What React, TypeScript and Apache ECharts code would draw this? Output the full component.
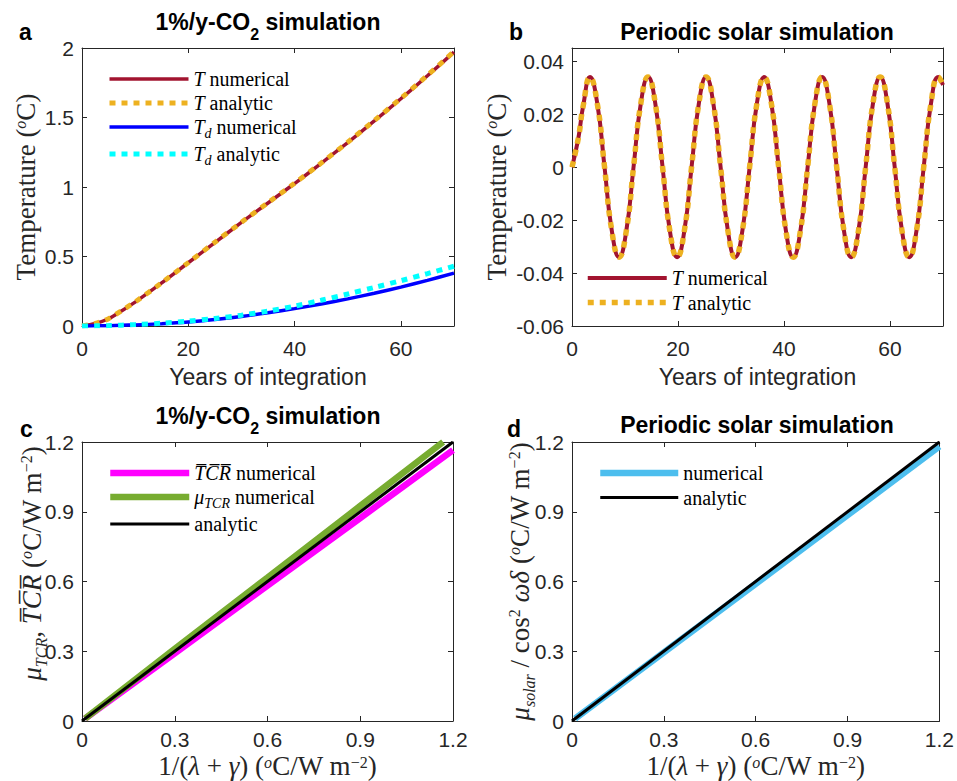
import React, { useEffect, useRef } from 'react';
import * as echarts from 'echarts';

// ---------- Panel a : 1%/y-CO2 simulation ----------
const co2Years = [0, 2.5, 5, 7.5, 10, 15, 20, 25, 30, 35, 40, 45, 50, 55, 60, 65, 70];
const tNumerical = [0, 0.018, 0.052, 0.11, 0.172, 0.31, 0.455, 0.6, 0.745, 0.885, 1.025, 1.17, 1.32, 1.475, 1.635, 1.8, 1.97];
const tAnalytic = [0, 0.018, 0.053, 0.111, 0.173, 0.311, 0.456, 0.602, 0.746, 0.887, 1.027, 1.172, 1.322, 1.478, 1.638, 1.803, 1.975];
const tdNumerical = [0, 0.001, 0.002, 0.005, 0.008, 0.016, 0.028, 0.046, 0.068, 0.095, 0.125, 0.158, 0.195, 0.236, 0.28, 0.328, 0.38];
const tdAnalytic = [0, 0.001, 0.003, 0.006, 0.01, 0.02, 0.035, 0.054, 0.078, 0.107, 0.143, 0.185, 0.23, 0.277, 0.326, 0.377, 0.43];

// ---------- Panel b : periodic solar simulation ----------
const solarYears = [
  0, 1.2, 2.1, 3.4, 4.77, 6.14, 7.51, 8.88, 10.25, 11.61, 12.98, 14.35, 15.72, 17.09, 18.46, 19.83,
  21.2, 22.56, 23.93, 25.3, 26.67, 28.04, 29.41, 30.78, 32.15, 33.51, 34.88, 36.25, 37.62, 38.99,
  40.36, 41.73, 43.1, 44.46, 45.83, 47.2, 48.57, 49.94, 51.31, 52.68, 54.05, 55.41, 56.78, 58.15,
  59.52, 60.89, 62.26, 63.63, 65.0, 66.36, 67.73, 69.1, 70,
];
const solarNumerical = [
  0, 0.011, 0.023, 0.034, 0.024, 0, -0.024, -0.034, -0.024, 0, 0.024, 0.034, 0.024, 0, -0.024, -0.034,
  -0.024, 0, 0.024, 0.034, 0.024, 0, -0.024, -0.034, -0.024, 0, 0.024, 0.034, 0.024, 0,
  -0.024, -0.034, -0.024, 0, 0.024, 0.034, 0.024, 0, -0.024, -0.034, -0.024, 0, 0.024, 0.034,
  0.024, 0, -0.024, -0.034, -0.024, 0, 0.024, 0.034, 0.031,
];
const solarAnalytic = [
  0, 0.011, 0.023, 0.034, 0.024, 0, -0.024, -0.034, -0.024, 0, 0.024, 0.034, 0.024, 0, -0.024, -0.034,
  -0.024, 0, 0.024, 0.034, 0.024, 0, -0.024, -0.034, -0.024, 0, 0.024, 0.034, 0.024, 0,
  -0.024, -0.034, -0.024, 0, 0.024, 0.034, 0.024, 0, -0.024, -0.034, -0.024, 0, 0.024, 0.034,
  0.024, 0, -0.024, -0.034, -0.024, 0, 0.024, 0.034, 0.031,
];

// ---------- Panel c : sensitivities, CO2 ----------
const tcrX = [0.01, 0.3, 0.6, 0.9, 1.2];
const tcrBarNumerical = [0.0097, 0.291, 0.582, 0.873, 1.165];
const muTcrX = [0.01, 0.3, 0.6, 0.9, 1.168];
const muTcrNumerical = [0.01, 0.31, 0.617, 0.925, 1.2];
const analyticX = [0, 1.2];
const analyticY = [0, 1.2];

// ---------- Panel d : sensitivities, solar ----------
const solarSensX = [0.01, 0.3, 0.6, 0.9, 1.2];
const solarSensNumerical = [0.0098, 0.295, 0.59, 0.885, 1.181];

// ---------- ticks ----------
const yearTicks = [0, 20, 40, 60];
const tempTicksA = [0, 0.5, 1, 1.5, 2];
const tempTicksB = [-0.06, -0.04, -0.02, 0, 0.02, 0.04];
const sensTicks = [0, 0.3, 0.6, 0.9, 1.2];

const AX = '#262626';
const SANS = '"Liberation Sans", Arial, Helvetica, sans-serif';
const SERIF = '"Liberation Serif", "Times New Roman", serif';

const pairs = (xs: number[], ys: number[]) => xs.map((x, i) => [x, ys[i]]);
const fmt = (v: number) => String(Math.round(v * 1000) / 1000);

// rich styles for LaTeX-like labels; H = line box height
function mathRich(size: number, H: number, color: string, raise: number) {
  const small = Math.round(size * 0.6);
  const base = H / 2 + 0.3375 * size;
  const supCenter = base - raise * size - 0.3375 * small;
  const subCenter = base + 0.22 * size - 0.3375 * small;
  const supL = Math.max(1, 2 * supCenter);
  const subL = Math.max(1, 2 * (H - subCenter));
  return {
    n: { fontFamily: SERIF, fontSize: size, lineHeight: H, color },
    i: { fontFamily: SERIF, fontStyle: 'italic', fontSize: size, lineHeight: H, color },
    supi: { fontFamily: SERIF, fontStyle: 'italic', fontSize: small, lineHeight: supL, height: supL, verticalAlign: 'top', color },
    sup: { fontFamily: SERIF, fontSize: small, lineHeight: supL, height: supL, verticalAlign: 'top', color },
    sub: { fontFamily: SERIF, fontStyle: 'italic', fontSize: small, lineHeight: subL, height: subL, verticalAlign: 'bottom', color },
  };
}

const legendRich = {
  n: { fontFamily: SERIF, fontSize: 20, lineHeight: 20, color: '#000' },
  i: { fontFamily: SERIF, fontStyle: 'italic', fontSize: 20, lineHeight: 20, color: '#000' },
  s: { fontFamily: SERIF, fontStyle: 'italic', fontSize: 14, lineHeight: 8, height: 8, verticalAlign: 'bottom', color: '#000' },
};

const legendLabels: Record<string, string> = {
  'a T numerical': '{i|T}{n| numerical}',
  'a T analytic': '{i|T}{n| analytic}',
  'a Td numerical': '{i|T}{s|d}{n| numerical}',
  'a Td analytic': '{i|T}{s|d}{n| analytic}',
  'b T numerical': '{i|T}{n| numerical}',
  'b T analytic': '{i|T}{n| analytic}',
  'c TCR numerical': '{i|T\u0305C\u0305R\u0305}{n| numerical}',
  'c mu numerical': '{i|\u03bc}{s|TCR}{n| numerical}',
  'c analytic': '{n|analytic}',
  'd numerical': '{n|numerical}',
  'd analytic': '{n|analytic}',
};

function axes(
  grid: number, dim: 'x' | 'y', min: number, max: number, interval: number, ticks: number[],
  name: string, nameGap: number, nameTextStyle: any, labelMargin: number,
) {
  const common: any = {
    type: 'value', gridIndex: grid, min, max, interval,
    splitLine: { show: false },
    axisLine: { show: true, onZero: false, lineStyle: { color: AX, width: 1 } },
    axisTick: { show: true, inside: true, length: 5, customValues: ticks, lineStyle: { color: AX, width: 1 } },
  };
  const main = {
    ...common,
    position: dim === 'x' ? 'bottom' : 'left',
    name, nameLocation: 'middle', nameGap, nameTextStyle, nameMoveOverlap: false,
    axisLabel: {
      show: true, customValues: ticks, margin: labelMargin, color: AX,
      fontFamily: SANS, fontSize: 21, formatter: fmt,
    },
  };
  const twin = { ...common, position: dim === 'x' ? 'top' : 'right', axisLabel: { show: false } };
  return [main, twin];
}

function line(name: string, panel: number, data: number[][], color: string, width: number, dash: any, smooth: any) {
  return {
    type: 'line', name, xAxisIndex: panel * 2, yAxisIndex: panel * 2, data,
    symbol: 'none', showSymbol: false, smooth, silent: true,
    lineStyle: { color, width, type: dash, cap: 'butt' },
    itemStyle: { color },
    emphasis: { disabled: true },
  };
}

const DOT = [6, 6];
const RED = '#A2142F';
const ORANGE = '#EDB120';

const sansName = { fontFamily: SANS, fontSize: 23, color: AX };
const tempName = '{n|Temperature (}{supi|o}{n|C)}';
const sensXName = '{n|1/(}{i|\u03bb}{n| + }{i|\u03b3}{n|) (}{supi|o}{n|C/W m}{sup|\u22122}{n|)}';
const tcrYName = '{i|\u03bc}{sub|TCR}{n|, }{i|T\u0305C\u0305R\u0305}{n| (}{supi|o}{n|C/W m}{sup|\u22122}{n|)}';
const solarYName = '{i|\u03bc}{sub|solar}{n| / cos}{sup|2}{n| }{i|\u03c9\u03b4}{n| (}{supi|o}{n|C/W m}{sup|\u22122}{n|)}';
const yMathName = { fontFamily: SERIF, fontSize: 27, lineHeight: 29, color: AX, rich: mathRich(27, 29, AX, 0.33) };
const yMathNameC = { ...yMathName, padding: [0, 0, 0, 36] };
const xMathName = { fontFamily: SERIF, fontSize: 27, lineHeight: 18, color: AX, rich: mathRich(27, 18, AX, 0.28) };

const titleRich = {
  m: { fontFamily: SANS, fontWeight: 'bold', fontSize: 23, lineHeight: 25, fill: '#000', color: '#000' },
  s: { fontFamily: SANS, fontWeight: 'bold', fontSize: 16, lineHeight: 1, height: 1, verticalAlign: 'bottom', fill: '#000', color: '#000' },
};

function txt(x: number, y: number, text: string, align: string, rich?: any) {
  return {
    type: 'text', x, y, silent: true,
    style: {
      text, fontFamily: SANS, fontWeight: 'bold', fontSize: 23, fill: '#000',
      align, textAlign: align, verticalAlign: 'middle', textVerticalAlign: 'middle', rich,
    },
  };
}

function legend(names: string[], widths: number[], colors: string[], dashes: any[], left: number, top: number, gap: number, itemWidth = 79) {
  return {
    show: true, orient: 'vertical', left, top, padding: 0, itemGap: gap,
    itemWidth, itemHeight: 20, selectedMode: false,
    data: names.map((name, k) => ({
      name,
      lineStyle: { width: widths[k], color: colors[k], type: dashes[k], cap: 'butt' },
      itemStyle: { opacity: 0, color: 'rgba(0,0,0,0)', borderWidth: 0 },
    })),
    formatter: (n: string) => legendLabels[n] || n,
    textStyle: { fontFamily: SERIF, fontSize: 20, color: '#000', lineHeight: 20, rich: legendRich },
  };
}

const option: any = {
  animation: false,
  backgroundColor: '#fff',
  grid: [
    { left: 82, top: 48, width: 372, height: 278 },
    { left: 572, top: 48, width: 371, height: 278 },
    { left: 82, top: 442, width: 371, height: 279 },
    { left: 572, top: 442, width: 371, height: 279 },
  ],
  xAxis: [
    ...axes(0, 'x', 0, 70, 20, yearTicks, 'Years of integration', 39, sansName, 12),
    ...axes(1, 'x', 0, 70, 20, yearTicks, 'Years of integration', 39, sansName, 12),
    ...axes(2, 'x', 0, 1.2, 0.3, sensTicks, sensXName, 36, xMathName, 8),
    ...axes(3, 'x', 0, 1.2, 0.3, sensTicks, sensXName, 36, xMathName, 8),
  ],
  yAxis: [
    ...axes(0, 'y', 0, 2, 0.5, tempTicksA, tempName, 42, yMathName, 8),
    ...axes(1, 'y', -0.06, 0.045, 0.02, tempTicksB, tempName, 61, yMathName, 8),
    ...axes(2, 'y', 0, 1.2, 0.3, sensTicks, tcrYName, 36, yMathNameC, 8),
    ...axes(3, 'y', 0, 1.2, 0.3, sensTicks, solarYName, 38, yMathName, 8),
  ],
  legend: [
    legend(['a T numerical', 'a T analytic', 'a Td numerical', 'a Td analytic'], [3.5, 5, 3.5, 5],
      [RED, ORANGE, '#0000FF', '#00FFFF'], ['solid', DOT, 'solid', DOT], 107, 69, 4),
    legend(['b T numerical', 'b T analytic'], [4, 5.5], [RED, ORANGE], ['solid', DOT], 585, 268, 4.5),
    legend(['c TCR numerical', 'c mu numerical', 'c analytic'], [6.5, 6.5, 3],
      ['#FF00FF', '#77AC30', '#000000'], ['solid', 'solid', 'solid'], 107, 463, 4),
    legend(['d numerical', 'd analytic'], [6.5, 3], ['#4DBEEE', '#000000'], ['solid', 'solid'], 597, 463, 4.5, 78),
  ],
  series: [
    line('a T numerical', 0, pairs(co2Years, tNumerical), RED, 3.5, 'solid', 0.3),
    line('a T analytic', 0, pairs(co2Years, tAnalytic), ORANGE, 5, DOT, 0.3),
    line('a Td numerical', 0, pairs(co2Years, tdNumerical), '#0000FF', 3.5, 'solid', 0.3),
    line('a Td analytic', 0, pairs(co2Years, tdAnalytic), '#00FFFF', 5, DOT, 0.3),
    line('b T numerical', 1, pairs(solarYears, solarNumerical), RED, 4, 'solid', 0.5),
    line('b T analytic', 1, pairs(solarYears, solarAnalytic), ORANGE, 5.5, DOT, 0.5),
    line('c TCR numerical', 2, pairs(tcrX, tcrBarNumerical), '#FF00FF', 6.5, 'solid', false),
    line('c mu numerical', 2, pairs(muTcrX, muTcrNumerical), '#77AC30', 6.5, 'solid', false),
    line('c analytic', 2, pairs(analyticX, analyticY), '#000000', 3, 'solid', false),
    line('d numerical', 3, pairs(solarSensX, solarSensNumerical), '#4DBEEE', 6.5, 'solid', false),
    line('d analytic', 3, pairs(analyticX, analyticY), '#000000', 3, 'solid', false),
  ],
  graphic: [
    txt(19, 32, 'a', 'left'),
    txt(509, 32, 'b', 'left'),
    txt(20, 429, 'c', 'left'),
    txt(507, 429, 'd', 'left'),
    txt(268, 22, '{m|1%/y-CO}{s|2}{m| simulation}', 'center', titleRich),
    txt(757, 32, 'Periodic solar simulation', 'center'),
    txt(268, 416, '{m|1%/y-CO}{s|2}{m| simulation}', 'center', titleRich),
    txt(757, 425, 'Periodic solar simulation', 'center'),
  ],
};

export default function App() {
  const ref = useRef<HTMLDivElement>(null);
  useEffect(() => {
    const chart = echarts.init(ref.current!, null, { renderer: 'svg' });
    chart.setOption(option);
    return () => chart.dispose();
  }, []);
  return (
    <div
      ref={ref}
      style={{ position: 'absolute', left: 0, top: 0, width: 957, height: 781, background: '#fff' }}
    />
  );
}
